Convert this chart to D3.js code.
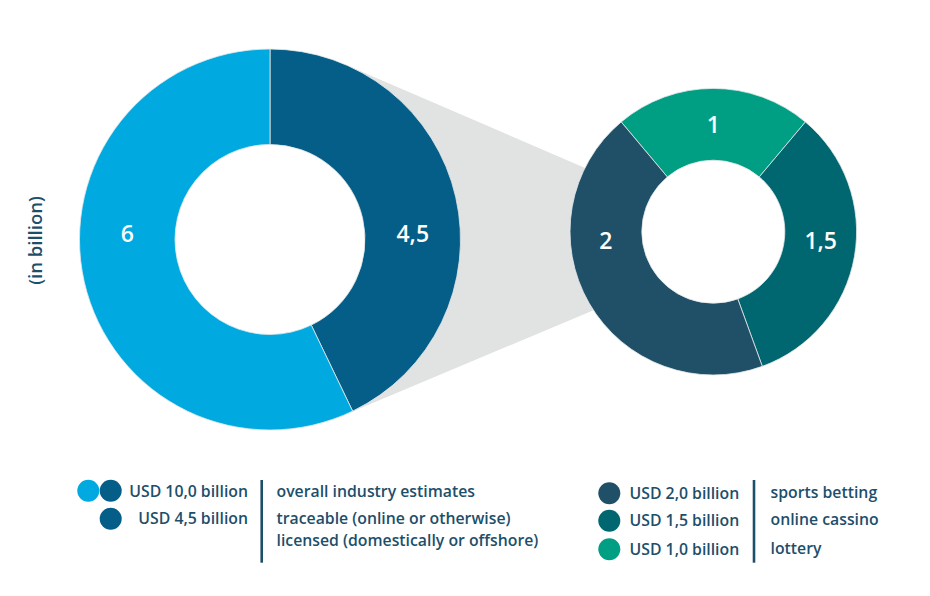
<!DOCTYPE html>
<html>
<head>
<meta charset="utf-8">
<script src="https://cdn.jsdelivr.net/npm/d3@7"></script>
<style>
  html, body { margin: 0; padding: 0; background: #ffffff; }
  svg { display: block; }
  text { font-family: "Open Sans", "Noto Sans", sans-serif; }
</style>
</head>
<body>
<svg id="chart" width="930" height="596"></svg>
<script>
// ---------------- DATA ----------------
const bigLabels   = ["4,5", "6"];
const bigValues   = [4.5, 6];
const bigColors   = ["#045e88", "#00a9e0"];

const smallLabels = ["1", "1,5", "2"];
const smallValues = [1, 1.5, 2];
const smallColors = ["#009e83", "#00666f", "#1f5068"];

const axisTitle = "(in billion)";

const legendLeftAmounts = ["USD 10,0 billion", "USD 4,5 billion"];
const legendLeftDescs   = ["overall industry estimates", "traceable (online or otherwise)", "licensed (domestically or offshore)"];
const legendRightAmounts = ["USD 2,0 billion", "USD 1,5 billion", "USD 1,0 billion"];
const legendRightDescs   = ["sports betting", "online cassino", "lottery"];

// ---------------- LAYOUT ----------------
const svg = d3.select("#chart");
const textColor = "#1d4f6b";
const gray = "#e1e2e2";
const legendFont = 15.8;

const big   = { cx: 270, cy: 239.5, r: 190.5, ri: 95,  sideDy: -6 };
const small = { cx: 713.3, cy: 231.7, r: 143.3, ri: 71.5, sideDy: 9.3 };

function polar(c, ang, rad) { return [c.cx + rad * Math.sin(ang), c.cy - rad * Math.cos(ang)]; }

// connector (zoom) shape behind the donuts
const deg = Math.PI / 180;
const bt = polar(big, 23 * deg, big.r), bb = polar(big, 158 * deg, big.r);
const st = polar(small, 296.5 * deg, small.r - 2), sb = polar(small, 236.6 * deg, small.r - 2);
svg.append("path")
  .attr("d", d3.line()([bt, st, [small.cx, small.cy], sb, bb, [big.cx, big.cy]]) + "Z")
  .attr("fill", gray);

function donut(c, labels, values, colors, startAngle) {
  const pie = d3.pie().sort(null).value(d => d)
    .startAngle(startAngle).endAngle(startAngle + 2 * Math.PI);
  const arcs = pie(values);
  const arc = d3.arc().innerRadius(c.ri).outerRadius(c.r);
  const g = svg.append("g").attr("transform", `translate(${c.cx},${c.cy})`);
  g.append("circle").attr("r", c.ri).attr("fill", "#ffffff");
  g.selectAll("path.slice").data(arcs).enter().append("path")
    .attr("class", "slice")
    .attr("d", arc)
    .attr("fill", (d, i) => colors[i])
    .attr("stroke", "#e4e8ea").attr("stroke-width", 0.8);
  const mid = (c.r + c.ri) / 2;
  g.selectAll("text.val").data(arcs).enter().append("text")
    .attr("class", "val")
    .each(function (d, i) {
      const a = (d.startAngle + d.endAngle) / 2;
      const snapped = Math.round(a / (Math.PI / 2)) * (Math.PI / 2);
      const isSide = Math.abs(Math.sin(snapped)) > 0.5;
      const x = mid * Math.sin(snapped);
      const y = -mid * Math.cos(snapped) + (isSide ? c.sideDy : 0);
      d3.select(this).attr("x", x).attr("y", y).text(labels[i]);
    })
    .attr("dy", "0.36em")
    .attr("text-anchor", "middle")
    .attr("fill", "#ffffff")
    .attr("font-size", 23)
    .attr("font-weight", 600);
}

donut(big, bigLabels, bigValues, bigColors, 0);
const smallTotal = d3.sum(smallValues);
donut(small, smallLabels, smallValues, smallColors, -Math.PI * smallValues[0] / smallTotal);

// axis title
svg.append("text")
  .attr("transform", "translate(42,240.5) rotate(-90)")
  .attr("text-anchor", "middle")
  .attr("fill", textColor)
  .attr("font-size", 18.5)
  .attr("font-weight", 600)
  .text(axisTitle);

// ---------------- LEGENDS ----------------
const lg = svg.append("g");
const dotR = 11;
// left legend
lg.append("circle").attr("cx", 88.3).attr("cy", 490.7).attr("r", dotR).attr("fill", bigColors[1]);
lg.append("circle").attr("cx", 110.7).attr("cy", 490.7).attr("r", dotR).attr("fill", bigColors[0]);
lg.append("circle").attr("cx", 110.7).attr("cy", 518.7).attr("r", dotR).attr("fill", bigColors[0]);
const leftAmtY = [496.7, 523.5];
legendLeftAmounts.forEach((t, i) => {
  lg.append("text").attr("x", 248).attr("y", leftAmtY[i]).attr("text-anchor", "end")
    .attr("fill", textColor).attr("font-size", legendFont).attr("font-weight", 600).text(t);
});
lg.append("line").attr("x1", 261.7).attr("x2", 261.7).attr("y1", 480).attr("y2", 562.7)
  .attr("stroke", textColor).attr("stroke-width", 2.6);
const leftDescY = [496.7, 524.3, 545.5];
legendLeftDescs.forEach((t, i) => {
  lg.append("text").attr("x", 276.5).attr("y", leftDescY[i])
    .attr("fill", textColor).attr("font-size", legendFont).attr("font-weight", 600).text(t);
});
// right legend
const rightY = [493.3, 520.8, 549.3];
legendRightAmounts.forEach((t, i) => {
  const col = [smallColors[2], smallColors[1], smallColors[0]][i];
  lg.append("circle").attr("cx", 609.3).attr("cy", rightY[i]).attr("r", dotR).attr("fill", col);
  lg.append("text").attr("x", 629.5).attr("y", rightY[i] + 5.3)
    .attr("fill", textColor).attr("font-size", legendFont).attr("font-weight", 600).text(t);
});
lg.append("line").attr("x1", 754).attr("x2", 754).attr("y1", 480).attr("y2", 562.7)
  .attr("stroke", textColor).attr("stroke-width", 2.6);
legendRightDescs.forEach((t, i) => {
  lg.append("text").attr("x", 770.5).attr("y", rightY[i] + 4.5)
    .attr("fill", textColor).attr("font-size", legendFont).attr("font-weight", 600).text(t);
});
</script>
</body>
</html>
